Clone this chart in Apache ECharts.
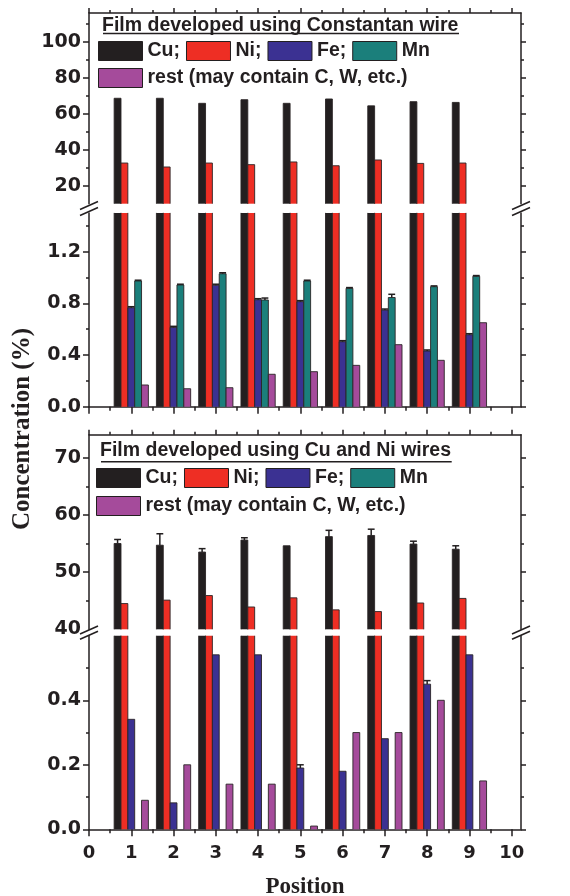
<!DOCTYPE html>
<html><head><meta charset="utf-8">
<script src="https://cdn.jsdelivr.net/npm/echarts@6/dist/echarts.min.js"></script>
<style>html,body{margin:0;padding:0;background:#fff}#c{width:570px;height:896px}</style>
</head><body><div id="c"></div>
<script>
// ---------------- data ----------------
const positions = [1, 2, 3, 4, 5, 6, 7, 8, 9];
const elementNames = ['Cu', 'Ni', 'Fe', 'Mn', 'rest (may contain C, W, etc.)'];

// Panel A: film developed using Constantan wire
const cuA   = [68.6, 68.6, 65.8, 67.8, 65.8, 68.2, 64.4, 66.7, 66.3];
const niA   = [32.6, 30.4, 32.6, 31.7, 33.2, 31.1, 34.3, 32.4, 32.6];
const feA   = [0.766, 0.614, 0.940, 0.828, 0.813, 0.503, 0.748, 0.431, 0.557];
const feErrA = [0.008, 0.008, 0.008, 0.008, 0.008, 0.008, 0.008, 0.008, 0.008];
const mnA   = [0.973, 0.942, 1.029, 0.826, 0.973, 0.916, 0.845, 0.929, 1.009];
const mnErrA = [0.006, 0.006, 0.008, 0.015, 0.006, 0.006, 0.025, 0.006, 0.006];
const restA = [0.168, 0.139, 0.147, 0.251, 0.271, 0.320, 0.480, 0.359, 0.650];

// Panel B: film developed using Cu and Ni wires
const cuB   = [55.0, 54.7, 53.5, 55.6, 54.6, 56.2, 56.4, 54.9, 54.0];
const cuErrB = [0.7, 2.0, 0.6, 0.4, 0.0, 1.1, 1.1, 0.5, 0.6];
const niB   = [44.5, 45.1, 45.9, 43.9, 45.5, 43.4, 43.1, 44.6, 45.4];
const feB   = [0.341, 0.082, 0.541, 0.541, 0.190, 0.180, 0.281, 0.450, 0.541];
const feErrB = [0, 0, 0, 0, 0.010, 0, 0, 0.011, 0];
const mnB   = [0, 0, 0, 0, 0, 0, 0, 0, 0];
const restB = [0.09, 0.20, 0.14, 0.14, 0.01, 0.30, 0.30, 0.40, 0.15];

// tick labels
const xTicks = [0, 1, 2, 3, 4, 5, 6, 7, 8, 9, 10];
const xMinorTicks = [0.5, 1.5, 2.5, 3.5, 4.5, 5.5, 6.5, 7.5, 8.5, 9.5];
const yLabA1 = [20, 40, 60, 80, 100];
const yMajA1 = [20, 40, 60, 80, 100];
const yMinA1 = [30, 50, 70, 90, 110];
const yLabA2 = [0, 0.4, 0.8, 1.2];
const yMajA2 = [0, 0.4, 0.8, 1.2];
const yMinA2 = [0.2, 0.6, 1.0, 1.4];
const yLabB1 = [40, 50, 60, 70];
const yMajB1 = [50, 60, 70];
const yMinB1 = [45, 55, 65];
const yLabB2 = [0, 0.2, 0.4];
const yMajB2 = [0, 0.2, 0.4];
const yMinB2 = [0.1, 0.3, 0.5];

// ---------------- style ----------------
const INK = '#231f20';
const COLORS = ['#231f20', '#ee2e24', '#3b3192', '#1b7f7b', '#a54b9b'];
const EDGE = '#2a2526';
const SANS = "'DejaVu Sans', sans-serif";
const ARIAL = "'Liberation Sans', Arial, sans-serif";
const SERIF = "'Liberation Serif', 'Times New Roman', serif";
const BAR_W = 0.162;
const OFFS = [-2, -1, 0, 1, 2].map(k => k * BAR_W);
const XMAX = 10.22;
const GL = 89, GR = 49;

const grids = [
  {top: 13,    height: 190.7, ymin: 10, ymax: 116, lab: yLabA1, maj: yMajA1, min: yMinA1, xPos: 'top',    fmt: v => String(v)},
  {top: 212.9, height: 193.8, ymin: 0,  ymax: 1.5, lab: yLabA2, maj: yMajA2, min: yMinA2, xPos: 'bottom', fmt: v => v.toFixed(1)},
  {top: 434.8, height: 194.5, ymin: 40, ymax: 74,  lab: yLabB1, maj: yMajB1, min: yMinB1, xPos: 'top',    fmt: v => String(v)},
  {top: 635.8, height: 193.5, ymin: 0,  ymax: 0.6, lab: yLabB2, maj: yMajB2, min: yMinB2, xPos: 'bottom', fmt: v => v.toFixed(1), xLabels: true}
];

const lineStyle = {color: INK, width: 1.5};
const xAxes = [], yAxes = [];
grids.forEach((g, gi) => {
  const xMain = {
    type: 'value', gridIndex: gi, position: g.xPos, min: 0, max: XMAX,
    axisLine: {show: true, onZero: false, lineStyle},
    axisTick: {show: true, inside: false, length: g.xPos === 'top' ? 5 : 7, customValues: xTicks, lineStyle},
    axisLabel: {show: !!g.xLabels, customValues: xTicks, color: INK, fontFamily: SANS, fontWeight: 'bold', fontSize: 18, margin: 15},
    splitLine: {show: false}
  };
  if (g.xLabels) {
    xMain.name = 'Position';
    xMain.nameLocation = 'middle';
    xMain.nameGap = 46;
    xMain.nameTextStyle = {color: INK, fontFamily: SERIF, fontWeight: 'bold', fontSize: 23};
  }
  xAxes.push(xMain);
  xAxes.push({
    type: 'value', gridIndex: gi, position: g.xPos, min: 0, max: XMAX,
    axisLine: {show: false, onZero: false},
    axisTick: {show: true, inside: false, length: g.xPos === 'top' ? 3 : 4, customValues: xMinorTicks, lineStyle},
    axisLabel: {show: false}, splitLine: {show: false}
  });
  ['left', 'right'].forEach(side => {
    yAxes.push({
      type: 'value', gridIndex: gi, position: side, min: g.ymin, max: g.ymax,
      axisLine: {show: true, onZero: false, lineStyle},
      axisTick: {show: true, inside: false, length: side === 'left' ? 6 : 5, customValues: g.maj, lineStyle},
      axisLabel: {show: side === 'left', customValues: g.lab, formatter: g.fmt, color: INK, fontFamily: SANS, fontWeight: 'bold', fontSize: 19, margin: 8},
      splitLine: {show: false}
    });
    yAxes.push({
      type: 'value', gridIndex: gi, position: side, min: g.ymin, max: g.ymax,
      axisLine: {show: false, onZero: false},
      axisTick: {show: true, inside: false, length: 3, customValues: g.min, lineStyle},
      axisLabel: {show: false}, splitLine: {show: false}
    });
  });
});

function makeRender(offIdx, color) {
  return function (params, api) {
    const cs = params.coordSys;
    const xc = api.value(0) + OFFS[offIdx];
    const v = api.value(1);
    const err = api.value(2) || 0;
    if (!(v > 0)) return null;
    const yBase = cs.y + cs.height;
    const yRaw = api.coord([xc, v])[1];
    if (yRaw >= yBase) return null;
    const clipped = yRaw < cs.y;
    const yTop = clipped ? cs.y : yRaw;
    const l = api.coord([xc - BAR_W / 2, v])[0];
    const r = api.coord([xc + BAR_W / 2, v])[0];
    const children = [{
      type: 'rect', shape: {x: l, y: yTop, width: r - l, height: yBase - yTop},
      style: {fill: color, stroke: null}
    }];
    const es = {stroke: EDGE, lineWidth: 0.9, fill: null};
    if (clipped) {
      children.push({type: 'line', shape: {x1: l, y1: yTop, x2: l, y2: yBase}, style: es});
      children.push({type: 'line', shape: {x1: r, y1: yTop, x2: r, y2: yBase}, style: es});
    } else {
      children.push({type: 'polyline', shape: {points: [[l, yBase], [l, yTop], [r, yTop], [r, yBase]]}, style: es});
    }
    if (err > 0 && !clipped) {
      const yE = Math.max(cs.y, api.coord([xc, v + err])[1]);
      const xm = (l + r) / 2;
      const bs = {stroke: INK, lineWidth: 1.5, fill: null};
      children.push({type: 'line', shape: {x1: xm, y1: yTop, x2: xm, y2: yE}, style: bs});
      children.push({type: 'line', shape: {x1: l, y1: yE, x2: r, y2: yE}, style: bs});
    }
    return {type: 'group', children};
  };
}

function mk(values, errs) {
  return positions.map((p, i) => [p, values[i], errs ? errs[i] : 0]);
}
const panelA = [mk(cuA), mk(niA), mk(feA, feErrA), mk(mnA, mnErrA), mk(restA)];
const panelB = [mk(cuB, cuErrB), mk(niB), mk(feB, feErrB), mk(mnB), mk(restB)];

const series = [];
grids.forEach((g, gi) => {
  const pdata = gi < 2 ? panelA : panelB;
  elementNames.forEach((name, k) => {
    series.push({
      type: 'custom', name, coordinateSystem: 'cartesian2d',
      xAxisIndex: gi * 2, yAxisIndex: gi * 4,
      itemStyle: {color: COLORS[k]},
      encode: {x: 0, y: 1},
      data: pdata[k],
      renderItem: makeRender(k, COLORS[k]),
      silent: true
    });
  });
});

const legTxt = {color: INK, fontFamily: ARIAL, fontWeight: 'bold', fontSize: 19.5};
function legend(left, top, data) {
  return {
    left, top, padding: 0, itemWidth: 44, itemHeight: 19, itemGap: 6, icon: 'rect',
    selectedMode: false, orient: 'horizontal',
    itemStyle: {borderColor: INK, borderWidth: 1},
    textStyle: legTxt, data,
    formatter: n => (n === 'Mn' || n.indexOf('rest') === 0) ? n : n + ';'
  };
}

function brk(x, y) {
  return {type: 'line', shape: {x1: x - 9, y1: y + 4, x2: x + 9, y2: y - 4}, style: {stroke: INK, lineWidth: 1.5}, silent: true};
}
const xL = GL, xR = 570 - GR;

const option = {
  animation: false,
  backgroundColor: '#fff',
  grid: grids.map(g => ({left: GL, right: GR, top: g.top, height: g.height, containLabel: false, outerBoundsMode: 'none'})),
  xAxis: xAxes,
  yAxis: yAxes,
  title: [
    {text: 'Film developed using Constantan wire', left: 102, top: 16, padding: 0, textStyle: legTxt},
    {text: 'Film developed using Cu and Ni wires', left: 100, top: 441, padding: 0, textStyle: legTxt}
  ],
  legend: [
    legend(98, 41, ['Cu', 'Ni', 'Fe', 'Mn']),
    legend(98, 68, [elementNames[4]]),
    legend(96, 468, ['Cu', 'Ni', 'Fe', 'Mn']),
    legend(96, 496, [elementNames[4]])
  ],
  graphic: [
    {type: 'line', shape: {x1: 103, y1: 33.5, x2: 459, y2: 33.5}, style: {stroke: INK, lineWidth: 1.6}, silent: true},
    {type: 'line', shape: {x1: 101, y1: 461.7, x2: 451.7, y2: 461.7}, style: {stroke: INK, lineWidth: 1.6}, silent: true},
    brk(xL, 205.5), brk(xL, 211.5), brk(xR, 205.5), brk(xR, 211.5),
    brk(xL, 630), brk(xL, 635.2), brk(xR, 630), brk(xR, 635.2),
    {type: 'text', x: 23, y: 429, rotation: Math.PI / 2,
     style: {text: 'Concentration (%)', fill: INK, font: "bold 25px 'Liberation Serif', serif", align: 'center', verticalAlign: 'middle'}, silent: true}
  ],
  series
};

const chart = echarts.init(document.getElementById('c'), null, {renderer: 'canvas'});
chart.setOption(option);
</script>
</body></html>
